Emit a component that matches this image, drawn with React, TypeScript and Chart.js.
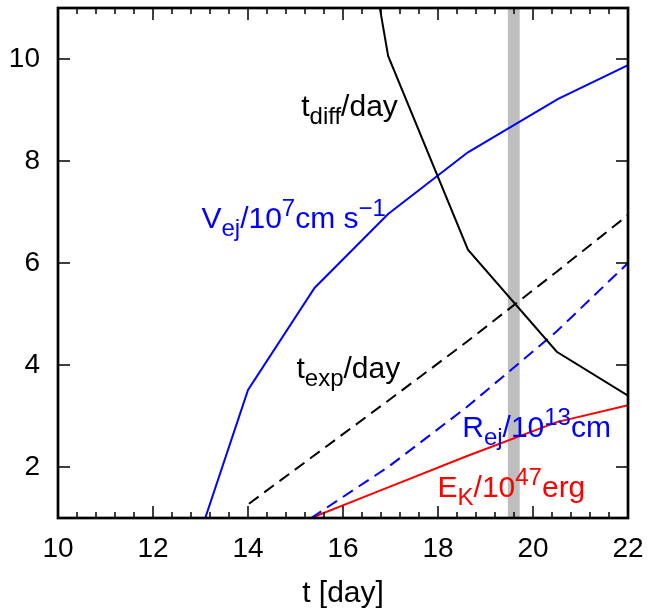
import React, { useEffect, useRef } from "react";
import { Chart, registerables } from "chart.js";

Chart.register(...registerables);

// ---- data ----
const xTicks = [10, 12, 14, 16, 18, 20, 22];
const yTicks = [2, 4, 6, 8, 10];

const tDiffT = [15.35, 16.95, 18.63, 20.5, 22];
const tDiffV = [18.7, 10.06, 6.26, 4.26, 3.4];

const vEjT = [13.1, 14.0, 15.4, 16.95, 18.63, 20.53, 22];
const vEjV = [1.0, 3.51, 5.51, 6.96, 8.17, 9.22, 9.88];

const tExpT = [14.02, 15.37, 16.95, 18.6, 20.5, 22];
const tExpV = [1.28, 2.21, 3.3, 4.45, 5.83, 6.94];

const rEjT = [15.33, 16.95, 18.6, 20.5, 22];
const rEjV = [1.0, 2.0, 3.17, 4.66, 6.0];

const eKT = [15.33, 16.95, 18.6, 20.5, 22];
const eKV = [1.0, 1.6, 2.21, 2.88, 3.21];

const bandStart = 19.47;
const bandEnd = 19.72;

const FONT = '"Liberation Sans", Arial, Helvetica, sans-serif';

type Part = [string, number]; // 0 normal, -1 sub, 1 sup
const annotations: { x: number; y: number; color: string; parts: Part[] }[] = [
  { x: 15.12, y: 8.876, color: "#000000", parts: [["t", 0], ["diff", -1], ["/day", 0]] },
  {
    x: 13.02,
    y: 6.68,
    color: "#0000ff",
    parts: [["V", 0], ["ej", -1], ["/10", 0], ["7", 1], ["cm s", 0], ["\u22121", 1]],
  },
  { x: 15.02, y: 3.74, color: "#000000", parts: [["t", 0], ["exp", -1], ["/day", 0]] },
  {
    x: 18.51,
    y: 2.59,
    color: "#0000ff",
    parts: [["R", 0], ["ej", -1], ["/10", 0], ["13", 1], ["cm", 0]],
  },
  {
    x: 17.99,
    y: 1.41,
    color: "#ff0000",
    parts: [["E", 0], ["K", -1], ["/10", 0], ["47", 1], ["erg", 0]],
  },
];

const toXY = (xs: number[], ys: number[]) => xs.map((x, i) => ({ x, y: ys[i] }));

const bandPlugin = {
  id: "band",
  beforeDatasetsDraw(chart: any) {
    const { ctx, chartArea, scales } = chart;
    const x0 = scales.x.getPixelForValue(bandStart);
    const x1 = scales.x.getPixelForValue(bandEnd);
    ctx.save();
    ctx.fillStyle = "#bebebe";
    ctx.fillRect(x0, chartArea.top, x1 - x0, chartArea.bottom - chartArea.top);
    ctx.restore();
  },
};

const framePlugin = {
  id: "frame",
  afterDatasetsDraw(chart: any) {
    const { ctx, chartArea, scales } = chart;
    const { left, right, top, bottom } = chartArea;
    ctx.save();
    // annotations
    ctx.textBaseline = "alphabetic";
    ctx.textAlign = "left";
    for (const a of annotations) {
      let px = scales.x.getPixelForValue(a.x);
      const py = scales.y.getPixelForValue(a.y);
      ctx.fillStyle = a.color;
      for (const [txt, mode] of a.parts) {
        const size = mode === 0 ? 30 : 24;
        const dy = mode === -1 ? 8 : mode === 1 ? -12 : 0;
        ctx.font = `${size}px ${FONT}`;
        ctx.fillText(txt, px, py + dy);
        px += ctx.measureText(txt).width;
      }
    }
    // ticks
    ctx.strokeStyle = "#000";
    ctx.lineWidth = 1.5;
    ctx.beginPath();
    for (let i = 0; i <= 30; i++) {
      const v = 10 + i * 0.4;
      const p = scales.x.getPixelForValue(v);
      const major = i % 5 === 0;
      const len = major ? 12 : 6;
      ctx.moveTo(p, bottom);
      ctx.lineTo(p, bottom - len);
      ctx.moveTo(p, top);
      ctx.lineTo(p, top + len);
    }
    for (const v of yTicks) {
      const p = scales.y.getPixelForValue(v);
      ctx.moveTo(left, p);
      ctx.lineTo(left + 12, p);
      ctx.moveTo(right, p);
      ctx.lineTo(right - 12, p);
    }
    ctx.stroke();
    // frame
    ctx.lineWidth = 2.7;
    ctx.strokeRect(left, top, right - left, bottom - top);
    ctx.restore();
  },
};

const zeroPad = (s: any) => {
  s.paddingLeft = 0;
  s.paddingRight = 0;
  s.paddingTop = 0;
  s.paddingBottom = 0;
};

export default function App() {
  const ref = useRef<HTMLCanvasElement | null>(null);
  useEffect(() => {
    if (!ref.current) return;
    const line = (data: any, color: string, dash: number[]) => ({
      data,
      borderColor: color,
      borderWidth: 2,
      borderDash: dash,
      pointRadius: 0,
      tension: 0,
      fill: false,
    });
    const chart = new Chart(ref.current, {
      type: "line",
      data: {
        datasets: [
          line(toXY(tDiffT, tDiffV), "#000000", []),
          line(toXY(vEjT, vEjV), "#0000ff", []),
          line(toXY(tExpT, tExpV), "#000000", [12, 7]),
          line(toXY(rEjT, rEjV), "#0000ff", [12, 7]),
          line(toXY(eKT, eKV), "#ff0000", []),
        ],
      },
      options: {
        animation: false,
        responsive: false,
        layout: { padding: { left: 0, right: 24, top: 8, bottom: 0 } },
        plugins: { legend: { display: false }, tooltip: { enabled: false } },
        scales: {
          x: {
            type: "linear",
            min: 10,
            max: 22,
            grid: { display: false, drawTicks: false },
            border: { display: false },
            afterBuildTicks: (s: any) => {
              s.ticks = xTicks.map((v) => ({ value: v }));
            },
            afterFit: (s: any) => {
              s.height = 98;
              zeroPad(s);
            },
            ticks: {
              color: "#000",
              font: { family: FONT, size: 28 },
              padding: 14,
              maxRotation: 0,
              autoSkip: false,
            },
            title: {
              display: true,
              text: "t [day]",
              color: "#000",
              font: { family: FONT, size: 30 },
              padding: { top: 0, bottom: 4 },
            },
          },
          y: {
            type: "linear",
            min: 1,
            max: 11,
            grid: { display: false, drawTicks: false },
            border: { display: false },
            afterBuildTicks: (s: any) => {
              s.ticks = yTicks.map((v) => ({ value: v }));
            },
            afterFit: (s: any) => {
              s.width = 58;
              zeroPad(s);
            },
            ticks: {
              color: "#000",
              font: { family: FONT, size: 28 },
              padding: 18,
              autoSkip: false,
            },
          },
        },
      },
      plugins: [bandPlugin, framePlugin],
    });
    return () => chart.destroy();
  }, []);
  return (
    <div style={{ position: "absolute", left: 0, top: 0, width: 652, height: 616, background: "#fff" }}>
      <canvas ref={ref} width={652} height={616} style={{ display: "block" }} />
    </div>
  );
}
